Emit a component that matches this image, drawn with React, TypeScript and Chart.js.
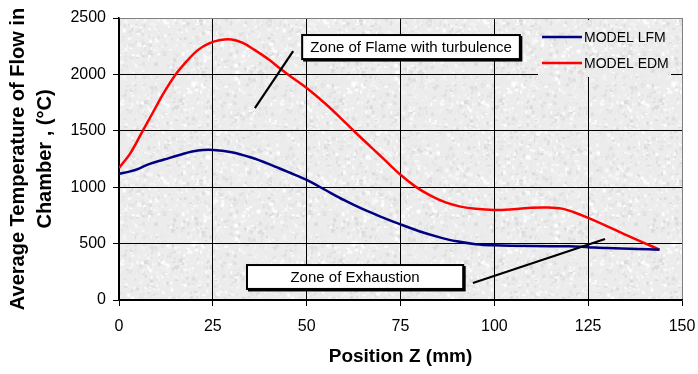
import React, { useEffect, useRef } from "react";
import { Chart, registerables } from "chart.js";

Chart.register(...registerables);

// ---- Data ----
const lfmX = [0, 3, 5, 8, 12, 17, 21, 25, 30, 35, 40, 45, 50, 55, 60, 65, 70, 75, 80, 85, 90, 95, 100, 110, 120, 125, 130, 138, 144];
const lfmY = [1120, 1140, 1160, 1205, 1245, 1295, 1325, 1330, 1310, 1265, 1205, 1135, 1065, 975, 885, 805, 735, 670, 610, 560, 520, 495, 485, 478, 476, 468, 460, 452, 446];

const edmX = [0, 3, 6, 9, 12, 15, 18, 21, 24, 27, 30, 33, 36, 40, 43, 46, 50, 55, 59, 63, 67, 71, 75, 79, 83, 87, 91, 95, 100, 105, 110, 114, 118, 121, 125, 131, 137, 144];
const edmY = [1170, 1300, 1480, 1660, 1840, 1995, 2115, 2215, 2275, 2305, 2310, 2280, 2220, 2130, 2050, 1975, 1880, 1740, 1615, 1485, 1360, 1235, 1110, 1005, 925, 865, 828, 808, 798, 805, 818, 820, 810, 780, 728, 640, 548, 446];

const seriesLabels = ["MODEL LFM", "MODEL EDM"];
const seriesColors = ["#000080", "#FF0000"];

const xTicks = [0, 25, 50, 75, 100, 125, 150];
const yTicks = [0, 500, 1000, 1500, 2000, 2500];

const xTitle = "Position Z (mm)";
const yTitleLines = ["Average Temperature of Flow in", "Chamber , (°C)"];

// annotations in data units
const flameText = "Zone of Flame with turbulence";
const flameBox = { x0: 48.8, x1: 106.8, y0: 2349, y1: 2136 };
const flameLine = { x0: 36.2, y0: 1702, x1: 46.4, y1: 2207 };
const exhText = "Zone of Exhaustion";
const exhBox = { x0: 34.1, x1: 91.7, y0: 310, y1: 98 };
const exhLine = { x0: 94.3, y0: 151, x1: 129.5, y1: 541 };

const FONT = '"Liberation Sans", Arial, sans-serif';

function makePattern(): CanvasPattern | string {
  const c = document.createElement("canvas");
  c.width = 160;
  c.height = 160;
  const g = c.getContext("2d");
  if (!g) return "#ebebeb";
  g.fillStyle = "#ececec";
  g.fillRect(0, 0, 160, 160);
  let s = 12345;
  const rnd = () => {
    s = (s * 1103515245 + 12345) & 0x7fffffff;
    return s / 0x7fffffff;
  };
  for (let i = 0; i < 1800; i++) {
    const x = rnd() * 160;
    const y = rnd() * 160;
    const v = Math.floor(218 + rnd() * 37);
    g.fillStyle = `rgb(${v},${v},${v})`;
    const w = 1 + rnd() * 3;
    const h = 1 + rnd() * 3;
    g.fillRect(x, y, w, h);
  }
  const ctx = document.createElement("canvas").getContext("2d");
  const p = ctx ? ctx.createPattern(c, "repeat") : null;
  return p || "#ebebeb";
}

export default function App() {
  const ref = useRef<HTMLCanvasElement>(null);

  useEffect(() => {
    if (!ref.current) return;
    const pattern = makePattern();

    const bgPlugin = {
      id: "bg",
      beforeDraw(chart: any) {
        const { ctx, chartArea: a } = chart;
        ctx.save();
        ctx.fillStyle = "#ffffff";
        ctx.fillRect(0, 0, chart.width, chart.height);
        ctx.fillStyle = pattern;
        ctx.fillRect(a.left, a.top, a.right - a.left, a.bottom - a.top);
        ctx.restore();
      },
    };

    const overlayPlugin = {
      id: "overlay",
      afterDraw(chart: any) {
        const { ctx, chartArea: a, scales } = chart;
        const xs = scales.x;
        const ys = scales.y;
        const px = (v: number) => xs.getPixelForValue(v);
        const py = (v: number) => ys.getPixelForValue(v);
        ctx.save();

        // legend
        const lx = a.right - 144;
        const ly = a.top + 2;
        ctx.fillStyle = pattern;
        ctx.fillRect(lx, ly, 133, 57);
        seriesLabels.forEach((lab, i) => {
          const yy = a.top + 19 + i * 26;
          ctx.strokeStyle = seriesColors[i];
          ctx.lineWidth = 2.5;
          ctx.beginPath();
          ctx.moveTo(lx + 4, yy);
          ctx.lineTo(lx + 44, yy);
          ctx.stroke();
          ctx.fillStyle = "#000";
          ctx.font = `14px ${FONT}`;
          ctx.textAlign = "left";
          ctx.textBaseline = "middle";
          ctx.fillText(lab, lx + 46, yy + 1);
        });

        // annotation lines
        ctx.strokeStyle = "#000";
        ctx.lineWidth = 2.2;
        for (const l of [flameLine, exhLine]) {
          ctx.beginPath();
          ctx.moveTo(px(l.x0), py(l.y0));
          ctx.lineTo(px(l.x1), py(l.y1));
          ctx.stroke();
        }

        // boxes
        const drawBox = (b: any, text: string) => {
          const x0 = px(b.x0), x1 = px(b.x1), y0 = py(b.y0), y1 = py(b.y1);
          ctx.fillStyle = "#000";
          ctx.fillRect(x0 + 1, y0 + 1, x1 - x0 + 1.5, y1 - y0 + 1.5);
          ctx.fillStyle = "#fff";
          ctx.fillRect(x0, y0, x1 - x0, y1 - y0);
          ctx.strokeStyle = "#000";
          ctx.lineWidth = 2;
          ctx.strokeRect(x0, y0, x1 - x0, y1 - y0);
          ctx.fillStyle = "#000";
          ctx.font = `15px ${FONT}`;
          ctx.textAlign = "center";
          ctx.textBaseline = "middle";
          ctx.fillText(text, (x0 + x1) / 2, (y0 + y1) / 2 + 1);
        };
        drawBox(flameBox, flameText);
        drawBox(exhBox, exhText);

        // axis titles
        ctx.fillStyle = "#000";
        ctx.font = `bold 19px ${FONT}`;
        ctx.textAlign = "center";
        ctx.textBaseline = "middle";
        ctx.fillText(xTitle, (a.left + a.right) / 2, 357);

        ctx.font = `bold 20px ${FONT}`;
        const cy = (a.top + a.bottom) / 2;
        yTitleLines.forEach((t, i) => {
          ctx.save();
          ctx.translate(18 + i * 27, cy);
          ctx.rotate(-Math.PI / 2);
          ctx.fillText(t, 0, 0);
          ctx.restore();
        });
        ctx.restore();
      },
    };

    const chart = new Chart(ref.current, {
      type: "line",
      data: {
        datasets: [
          {
            label: seriesLabels[0],
            data: lfmX.map((x, i) => ({ x, y: lfmY[i] })),
            borderColor: seriesColors[0],
            borderWidth: 2.5,
            pointRadius: 0,
            tension: 0.35,
            fill: false,
          },
          {
            label: seriesLabels[1],
            data: edmX.map((x, i) => ({ x, y: edmY[i] })),
            borderColor: seriesColors[1],
            borderWidth: 2.5,
            pointRadius: 0,
            tension: 0.35,
            fill: false,
          },
        ],
      },
      options: {
        responsive: false,
        animation: false,
        events: [],
        layout: { padding: { top: 18, right: 16, left: 0, bottom: 0 } },
        plugins: { legend: { display: false }, tooltip: { enabled: false }, title: { display: false } },
        scales: {
          x: {
            type: "linear",
            min: 0,
            max: 150,
            afterBuildTicks: (s: any) => {
              s.ticks = xTicks.map((v) => ({ value: v }));
            },
            afterFit: (s: any) => {
              s.height = 74;
              s.paddingLeft = 0;
              s.paddingRight = 0;
            },
            ticks: {
              font: { size: 16, family: FONT },
              color: "#000",
              padding: 11,
              maxRotation: 0,
              callback: (v: any) => String(v),
            },
            grid: {
              color: (c: any) => (c.tick && c.tick.value === 150 ? "#808080" : "#000"),
              tickColor: "#000",
              lineWidth: 1,
              tickLength: 6,
            },
            border: { color: "#000", width: 1.5 },
          },
          y: {
            min: 0,
            max: 2500,
            afterBuildTicks: (s: any) => {
              s.ticks = yTicks.map((v) => ({ value: v }));
            },
            afterFit: (s: any) => {
              s.width = 119;
              s.paddingTop = 0;
              s.paddingBottom = 0;
            },
            ticks: {
              font: { size: 16, family: FONT },
              color: "#000",
              padding: 7,
              callback: (v: any) => String(v),
            },
            grid: {
              color: (c: any) => (c.tick && c.tick.value === 2500 ? "#808080" : "#000"),
              tickColor: "#000",
              lineWidth: 1,
              tickLength: 6,
            },
            border: { color: "#000", width: 1.5 },
          },
        },
      },
      plugins: [bgPlugin, overlayPlugin],
    } as any);

    return () => chart.destroy();
  }, []);

  return (
    <div style={{ position: "absolute", left: 0, top: 0, width: 698, height: 374, background: "#fff" }}>
      <canvas ref={ref} width={698} height={374} style={{ width: 698, height: 374, display: "block" }} />
    </div>
  );
}
